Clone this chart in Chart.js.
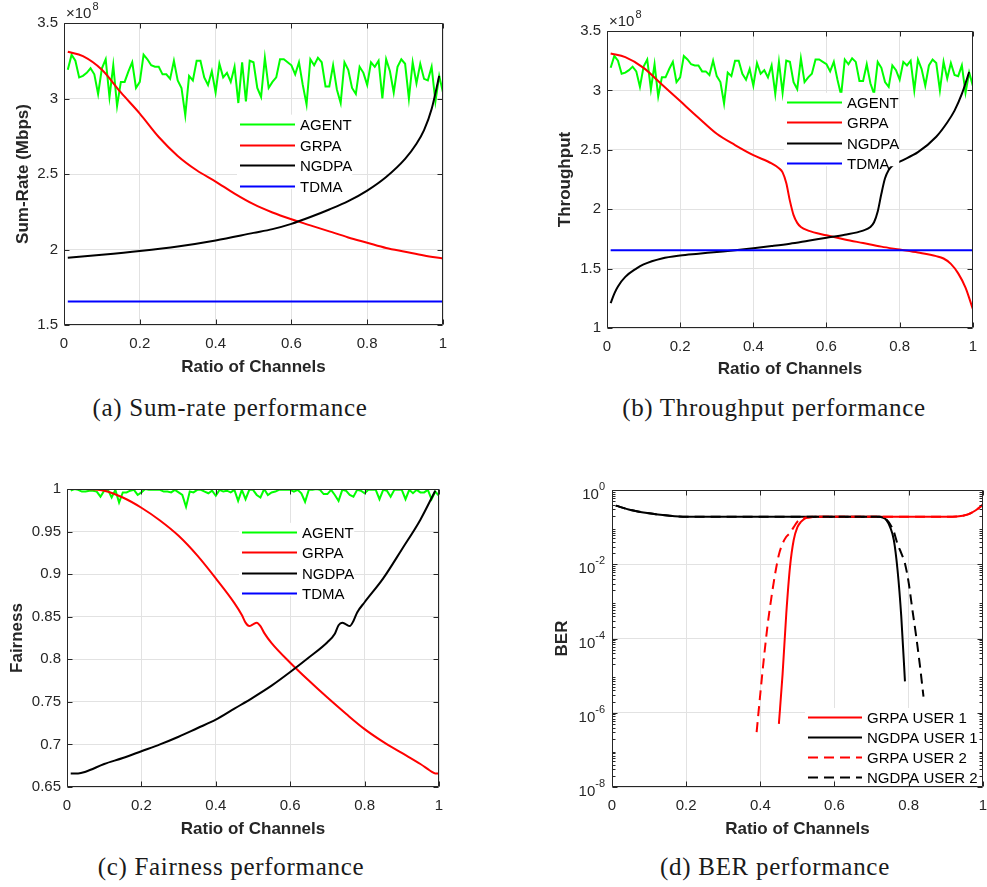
<!DOCTYPE html>
<html lang="en">
<head>
<meta charset="UTF-8">
<title>Performance versus ratio of channels</title>
<script src="https://cdn.jsdelivr.net/npm/chart.js"></script>
<style>
    body {
        margin: 0;
        background: #fff;
        width: 987px;
        height: 887px;
        overflow: hidden;
        position: relative;
    }
    canvas {
        position: absolute;
    }
    .caption {
        position: absolute;
        transform: translate(-50%, -50%);
        font-family: "Liberation Serif", "Times New Roman", serif;
        font-size: 25px;
        letter-spacing: 0.7px;
        color: #1a1a1a;
        white-space: nowrap;
    }
</style>
</head>
<body>
<canvas id="rateChart" width="490" height="390" style="left:0;top:0"></canvas>
<canvas id="thrChart" width="487" height="390" style="left:500px;top:0"></canvas>
<canvas id="fairChart" width="490" height="400" style="left:0;top:440px"></canvas>
<canvas id="berChart" width="497" height="400" style="left:500px;top:440px"></canvas>

<div class="caption" style="left:230px;top:408px">(a) Sum-rate performance</div>
<div class="caption" style="left:774px;top:408px">(b) Throughput performance</div>
<div class="caption" style="left:231px;top:867px">(c) Fairness performance</div>
<div class="caption" style="left:775px;top:867px">(d) BER performance</div>

<script>
// ratio of channels used by the AGENT curves
const ratio = [0.01,0.02,0.03,0.04,0.05,0.06,0.07,0.08,0.09,0.10,
    0.11,0.12,0.13,0.14,0.15,0.16,0.17,0.18,0.19,0.20,
    0.21,0.22,0.23,0.24,0.25,0.26,0.27,0.28,0.29,0.30,
    0.31,0.32,0.33,0.34,0.35,0.36,0.37,0.38,0.39,0.40,
    0.41,0.42,0.43,0.44,0.45,0.46,0.47,0.48,0.49,0.50,
    0.51,0.52,0.53,0.54,0.55,0.56,0.57,0.58,0.59,0.60,
    0.61,0.62,0.63,0.64,0.65,0.66,0.67,0.68,0.69,0.70,
    0.71,0.72,0.73,0.74,0.75,0.76,0.77,0.78,0.79,0.80,
    0.81,0.82,0.83,0.84,0.85,0.86,0.87,0.88,0.89,0.90,
    0.91,0.92,0.93,0.94,0.95,0.96,0.97,0.98,0.99,1.00];

// sum-rate / throughput of the agent, in units of 1e8
const agentRate = [3.19,3.29,3.25,3.14,3.15,3.17,3.20,3.16,3.03,3.20,
    3.26,3.01,3.22,2.95,3.11,3.11,3.18,3.24,3.07,3.11,
    3.29,3.26,3.22,3.21,3.21,3.16,3.16,3.13,3.25,3.12,
    3.07,2.89,3.15,3.12,3.25,3.25,3.14,3.09,3.18,3.04,
    3.23,3.14,3.17,3.11,3.21,2.97,3.24,2.98,3.25,3.24,
    3.07,3.01,3.27,3.07,3.11,3.14,3.26,3.26,3.24,3.22,
    3.16,3.24,3.09,2.96,3.26,3.22,3.27,3.24,3.08,3.08,
    3.22,3.06,2.97,3.24,3.19,3.07,3.03,3.21,3.17,3.09,
    3.24,3.21,3.25,3.00,3.26,3.18,3.04,3.21,3.26,3.23,
    3.00,3.24,3.10,3.23,3.13,3.12,3.21,2.98,3.15,3.04];

const agentFairness = [0.998,1.000,0.999,0.997,0.997,0.998,0.998,0.997,0.991,0.998,
    0.999,0.990,0.999,0.984,0.996,0.996,0.998,0.999,0.993,0.996,
    1.000,0.999,0.999,0.999,0.999,0.997,0.997,0.996,0.999,0.996,
    0.993,0.979,0.997,0.996,0.999,0.999,0.997,0.995,0.998,0.992,
    0.999,0.997,0.998,0.996,0.999,0.986,0.999,0.988,0.999,0.999,
    0.993,0.990,1.000,0.993,0.996,0.997,0.999,0.999,0.999,0.999,
    0.997,0.999,0.995,0.985,0.999,0.999,1.000,0.999,0.994,0.994,
    0.999,0.993,0.986,0.999,0.998,0.993,0.991,0.999,0.998,0.995,
    0.999,0.999,0.999,0.988,0.999,0.998,0.991,0.999,0.999,0.999,
    0.988,0.999,0.995,0.999,0.996,0.996,0.999,0.988,0.997,0.992];

const tdmaX = [0.01, 1.00];
const tdmaRate = [1.655, 1.655];
const tdmaFairness = [1, 1];

// (a) sum-rate
const grpaRateX = [0.01,0.05,0.10,0.15,0.20,0.25,0.30,0.35,0.40,0.45,0.50,0.55,0.60,0.65,0.70,0.75,0.80,0.85,0.90,0.95,1.00];
const grpaRate  = [3.31,3.28,3.19,3.04,2.90,2.745,2.62,2.525,2.45,2.37,2.30,2.245,2.20,2.16,2.12,2.08,2.045,2.01,1.985,1.96,1.94];
const ngdpaRateX = [0.01,0.10,0.20,0.30,0.40,0.50,0.55,0.60,0.65,0.70,0.75,0.80,0.85,0.90,0.93,0.95,0.97,0.99];
const ngdpaRate  = [1.945,1.965,1.99,2.02,2.06,2.11,2.135,2.17,2.215,2.265,2.32,2.39,2.48,2.60,2.70,2.79,2.93,3.15];

// (b) throughput
const grpaThrX = [0.01,0.05,0.10,0.15,0.20,0.25,0.30,0.35,0.40,0.45,0.47,0.48,0.49,0.50,0.51,0.52,0.53,0.55,0.60,0.65,0.70,0.75,0.80,0.85,0.90,0.92,0.94,0.96,0.98,1.00];
const grpaThr  = [3.31,3.28,3.19,3.05,2.91,2.77,2.635,2.54,2.455,2.385,2.345,2.31,2.22,2.07,1.95,1.885,1.85,1.82,1.78,1.745,1.715,1.685,1.66,1.635,1.605,1.585,1.54,1.46,1.34,1.16];
const ngdpaThrX = [0.01,0.02,0.03,0.05,0.08,0.10,0.15,0.20,0.25,0.30,0.35,0.40,0.45,0.50,0.55,0.60,0.65,0.70,0.72,0.73,0.74,0.75,0.76,0.77,0.78,0.80,0.85,0.90,0.93,0.95,0.97,0.99];
const ngdpaThr  = [1.21,1.29,1.35,1.43,1.50,1.535,1.585,1.61,1.625,1.64,1.655,1.672,1.69,1.71,1.735,1.76,1.785,1.82,1.85,1.89,1.98,2.13,2.26,2.33,2.365,2.40,2.48,2.61,2.73,2.83,2.97,3.155];

// (c) fairness
const grpaFairX = [0.01,0.05,0.10,0.15,0.20,0.25,0.30,0.35,0.40,0.45,0.47,0.48,0.49,0.50,0.51,0.52,0.53,0.55,0.60,0.65,0.70,0.75,0.80,0.85,0.90,0.95,0.97,0.98,0.99,1.00];
const grpaFair  = [1.000,1.000,0.998,0.990,0.978,0.963,0.945,0.922,0.895,0.866,0.852,0.843,0.839,0.841,0.843,0.839,0.831,0.819,0.796,0.775,0.755,0.736,0.718,0.703,0.690,0.677,0.671,0.668,0.666,0.666];
const ngdpaFairX = [0.01,0.03,0.05,0.10,0.15,0.20,0.25,0.30,0.35,0.40,0.45,0.50,0.55,0.60,0.65,0.70,0.72,0.73,0.74,0.75,0.76,0.77,0.78,0.80,0.85,0.90,0.95,0.99];
const ngdpaFair  = [0.666,0.666,0.668,0.677,0.684,0.692,0.700,0.709,0.719,0.729,0.742,0.755,0.769,0.785,0.802,0.820,0.830,0.840,0.843,0.841,0.839,0.845,0.855,0.867,0.895,0.929,0.964,0.998];

// (d) bit error rate
const grpaBer1X = [0.45,0.46,0.47,0.48,0.49,0.50,0.51,0.52,0.53,0.55,0.60,0.70,0.80,0.90,0.93,0.96,0.98,1.00];
const grpaBer1  = [5e-7,1.1e-5,4.7e-4,8.5e-3,0.045,0.10,0.14,0.17,0.18,0.19,0.19,0.19,0.19,0.19,0.193,0.22,0.28,0.40];
const ngdpaBer1X = [0.01,0.05,0.10,0.15,0.20,0.30,0.40,0.50,0.60,0.70,0.72,0.73,0.74,0.75,0.76,0.77,0.78,0.79];
const ngdpaBer1  = [0.38,0.29,0.235,0.205,0.19,0.19,0.19,0.19,0.19,0.19,0.19,0.18,0.155,0.10,0.045,7e-3,4e-4,7e-6];
const grpaBer2X = [0.39,0.40,0.41,0.42,0.43,0.44,0.45,0.46,0.47,0.48,0.49,0.50,0.51,0.52,0.55,0.60,0.70,0.80,0.90,0.93,0.96,0.98,1.00];
const grpaBer2  = [3e-7,3.3e-6,3.2e-5,2.5e-4,1.3e-3,5.6e-3,0.018,0.036,0.055,0.07,0.10,0.14,0.165,0.18,0.19,0.19,0.19,0.19,0.19,0.193,0.22,0.28,0.40];
const ngdpaBer2X = [0.01,0.05,0.10,0.15,0.20,0.30,0.40,0.50,0.60,0.70,0.72,0.73,0.74,0.75,0.76,0.77,0.78,0.79,0.80,0.81,0.82,0.83,0.84];
const ngdpaBer2  = [0.38,0.29,0.235,0.205,0.19,0.19,0.19,0.19,0.19,0.19,0.19,0.185,0.16,0.12,0.075,0.035,0.02,0.0105,3.2e-3,6e-4,1.2e-4,2e-5,2.7e-6];

// tick values
const xTicks = [0, 0.2, 0.4, 0.6, 0.8, 1];
const rateTicks = [1.5, 2, 2.5, 3, 3.5];
const thrTicks = [1, 1.5, 2, 2.5, 3, 3.5];
const fairTicks = [0.65, 0.7, 0.75, 0.8, 0.85, 0.9, 0.95, 1];
const berTicks = [1e-8, 1e-6, 1e-4, 1e-2, 1];
const berTickExponents = ['-8', '-6', '-4', '-2', '0'];

const FONT = '"Liberation Sans", Arial, Helvetica, sans-serif';
const AXIS_COLOR = '#262626';
const GRID_COLOR = '#e2e2e2';

function pts(xs, ys) {
    return xs.map((x, i) => ({ x: x, y: ys[i] }));
}

function series(label, xs, ys, color, opts) {
    return Object.assign({
        label: label,
        data: pts(xs, ys),
        borderColor: color,
        backgroundColor: color,
        borderWidth: 2,
        pointRadius: 0,
        fill: false,
        tension: 0
    }, opts || {});
}
const smooth = { cubicInterpolationMode: 'monotone' };

// legend drawn inside the plot with a white background, like MATLAB
const insideLegend = {
    id: 'insideLegend',
    afterDatasetsDraw(chart, args, opts) {
        if (!opts || opts.left === undefined) return;
        const ctx = chart.ctx;
        const sets = chart.data.datasets;
        ctx.save();
        ctx.font = '15px ' + FONT;
        let w = 0;
        sets.forEach(d => { w = Math.max(w, ctx.measureText(d.label).width); });
        const x0 = opts.left, y0 = opts.top, rh = opts.rowHeight, len = opts.lineLength;
        let boxRight = x0 + len + 5 + w;
        if (opts.toEdge) boxRight = chart.chartArea.right - 1;
        const boxTop = y0 - rh / 2 + 1;
        const boxBottom = y0 + (sets.length - 1) * rh + 3;
        ctx.fillStyle = '#ffffff';
        ctx.fillRect(x0 - 3, boxTop, boxRight - (x0 - 3), boxBottom - boxTop);
        sets.forEach((d, i) => {
            const y = Math.round(y0 + i * rh) + 0.5;
            ctx.strokeStyle = d.borderColor;
            ctx.lineWidth = d.borderWidth;
            ctx.setLineDash(d.borderDash || []);
            ctx.beginPath();
            ctx.moveTo(x0, y);
            ctx.lineTo(x0 + len, y);
            ctx.stroke();
            ctx.setLineDash([]);
            ctx.fillStyle = '#000000';
            ctx.textAlign = 'left';
            ctx.textBaseline = 'middle';
            ctx.fillText(d.label, x0 + len + 5, y + 1);
        });
        ctx.restore();
    }
};

// axes box, inward ticks, x10^n multiplier and power-of-ten labels
const axesBox = {
    id: 'axesBox',
    afterDraw(chart, args, opts) {
        const ctx = chart.ctx;
        const a = chart.chartArea;
        const xs = chart.scales.x, ys = chart.scales.y;
        const L = Math.round(a.left) + 0.5, R = Math.round(a.right) - 0.5;
        const T = Math.round(a.top) + 0.5, B = Math.round(a.bottom) - 0.5;
        ctx.save();
        ctx.strokeStyle = AXIS_COLOR;
        ctx.lineWidth = 1;
        ctx.beginPath();
        ctx.rect(L, T, R - L, B - T);
        xs.ticks.forEach(t => {
            const p = Math.round(xs.getPixelForValue(t.value)) + 0.5;
            ctx.moveTo(p, B); ctx.lineTo(p, B - 5);
            ctx.moveTo(p, T); ctx.lineTo(p, T + 5);
        });
        ys.ticks.forEach(t => {
            const p = Math.round(ys.getPixelForValue(t.value)) + 0.5;
            ctx.moveTo(L, p); ctx.lineTo(L + 5, p);
            ctx.moveTo(R, p); ctx.lineTo(R - 5, p);
        });
        if (opts.minorLog) {
            for (let e = -8; e < 0; e++) {
                for (let m = 2; m <= 9; m++) {
                    const p = Math.round(ys.getPixelForValue(m * Math.pow(10, e))) + 0.5;
                    ctx.moveTo(L, p); ctx.lineTo(L + 3, p);
                    ctx.moveTo(R, p); ctx.lineTo(R - 3, p);
                }
            }
        }
        ctx.stroke();

        ctx.fillStyle = AXIS_COLOR;
        if (opts.multiplier) {
            ctx.textAlign = 'left';
            ctx.textBaseline = 'middle';
            ctx.font = '15px ' + FONT;
            const base = '\u00d710';
            ctx.fillText(base, a.left + 2, a.top - 9);
            const bw = ctx.measureText(base).width;
            ctx.font = '11px ' + FONT;
            ctx.fillText(opts.multiplier, a.left + 3 + bw, a.top - 16);
        }
        if (opts.powerLabels) {
            ctx.textAlign = 'right';
            ctx.textBaseline = 'middle';
            ys.ticks.forEach((t, i) => {
                const p = ys.getPixelForValue(t.value);
                const ex = opts.powerLabels[i];
                ctx.font = '11px ' + FONT;
                const ew = ctx.measureText(ex).width;
                ctx.fillText(ex, a.left - 7, p - 3);
                ctx.font = '15px ' + FONT;
                ctx.fillText('10', a.left - 7 - ew, p + 5);
            });
        }
        ctx.restore();
    }
};

function fmt(v) {
    return String(+Number(v).toFixed(2));
}

function makePanel(id, geom, datasets, yCfg, legendOpts, boxOpts) {
    const n = datasets.length;
    datasets.forEach((d, i) => { d.order = n - 1 - i; });
    const yScale = Object.assign({
        afterFit: s => { s.width = geom.yWidth; },
        grid: { color: GRID_COLOR, drawTicks: false },
        border: { display: false },
        ticks: { padding: 6, color: AXIS_COLOR, font: { size: 15, family: FONT }, callback: fmt, autoSkip: false },
        title: { display: true, text: yCfg.title, color: AXIS_COLOR, font: { size: 17, weight: 'bold', family: FONT }, padding: { top: geom.yTitlePad, bottom: 0 } }
    }, yCfg.scale);
    yScale.afterBuildTicks = s => { s.ticks = yCfg.ticks.map(v => ({ value: v })); };

    return new Chart(document.getElementById(id), {
        type: 'line',
        data: { datasets: datasets },
        options: {
            responsive: false,
            animation: false,
            devicePixelRatio: 1,
            layout: { padding: geom.pad },
            plugins: {
                legend: { display: false },
                tooltip: { enabled: false },
                insideLegend: legendOpts,
                axesBox: boxOpts
            },
            scales: {
                x: {
                    type: 'linear',
                    min: 0,
                    max: 1,
                    afterBuildTicks: s => { s.ticks = xTicks.map(v => ({ value: v })); },
                    afterFit: s => { s.height = geom.xHeight; },
                    grid: { color: GRID_COLOR, drawTicks: false },
                    border: { display: false },
                    ticks: { padding: 10, color: AXIS_COLOR, font: { size: 15, family: FONT }, callback: fmt, maxRotation: 0, autoSkip: false },
                    title: { display: true, text: 'Ratio of Channels', color: AXIS_COLOR, font: { size: 17, weight: 'bold', family: FONT }, padding: 0 }
                },
                y: yScale
            }
        },
        plugins: [insideLegend, axesBox]
    });
}

// (a) Sum-rate
makePanel('rateChart',
    { pad: { left: 0, top: 23, right: 47, bottom: 12 }, yWidth: 64, xHeight: 53, yTitlePad: 13 },
    [
        series('AGENT', ratio, agentRate, '#00ff00'),
        series('GRPA', grpaRateX, grpaRate, '#ff0000', smooth),
        series('NGDPA', ngdpaRateX, ngdpaRate, '#000000', smooth),
        series('TDMA', tdmaX, tdmaRate, '#0000ff')
    ],
    { title: 'Sum-Rate (Mbps)', ticks: rateTicks, scale: { type: 'linear', min: 1.5, max: 3.5 } },
    { left: 240, top: 124, rowHeight: 20.7, lineLength: 55 },
    { multiplier: '8' }
);

// (b) Throughput
makePanel('thrChart',
    { pad: { left: 45, top: 31, right: 6, bottom: 10 }, yWidth: 62, xHeight: 52, yTitlePad: 10 },
    [
        series('AGENT', ratio, agentRate, '#00ff00'),
        series('GRPA', grpaThrX, grpaThr, '#ff0000', smooth),
        series('NGDPA', ngdpaThrX, ngdpaThr, '#000000', smooth),
        series('TDMA', tdmaX, tdmaRate, '#0000ff')
    ],
    { title: 'Throughput', ticks: thrTicks, scale: { type: 'linear', min: 1, max: 3.5 } },
    { left: 287, top: 102, rowHeight: 20.4, lineLength: 55 },
    { multiplier: '8' }
);

// (c) Fairness
makePanel('fairChart',
    { pad: { left: 0, top: 49, right: 51, bottom: 0 }, yWidth: 67, xHeight: 53, yTitlePad: 7 },
    [
        series('AGENT', ratio, agentFairness, '#00ff00'),
        series('GRPA', grpaFairX, grpaFair, '#ff0000', smooth),
        series('NGDPA', ngdpaFairX, ngdpaFair, '#000000', smooth),
        series('TDMA', tdmaX, tdmaFairness, '#0000ff')
    ],
    { title: 'Fairness', ticks: fairTicks, scale: { type: 'linear', min: 0.65, max: 1 } },
    { left: 242, top: 92, rowHeight: 20.3, lineLength: 55 },
    {}
);

// (d) BER
makePanel('berChart',
    { pad: { left: 42, top: 50, right: 12, bottom: 0 }, yWidth: 70, xHeight: 53, yTitlePad: 10 },
    [
        series('GRPA USER 1', grpaBer1X, grpaBer1, '#ff0000', smooth),
        series('NGDPA USER 1', ngdpaBer1X, ngdpaBer1, '#000000', smooth),
        series('GRPA USER 2', grpaBer2X, grpaBer2, '#ff0000', Object.assign({ borderDash: [10, 6] }, smooth)),
        series('NGDPA USER 2', ngdpaBer2X, ngdpaBer2, '#000000', Object.assign({ borderDash: [10, 6] }, smooth))
    ],
    { title: 'BER', ticks: berTicks, scale: { type: 'logarithmic', min: 1e-8, max: 1, ticks: { display: false } } },
    { left: 308, top: 277, rowHeight: 20, lineLength: 54, toEdge: true },
    { minorLog: true, powerLabels: berTickExponents }
);
</script>
</body>
</html>
